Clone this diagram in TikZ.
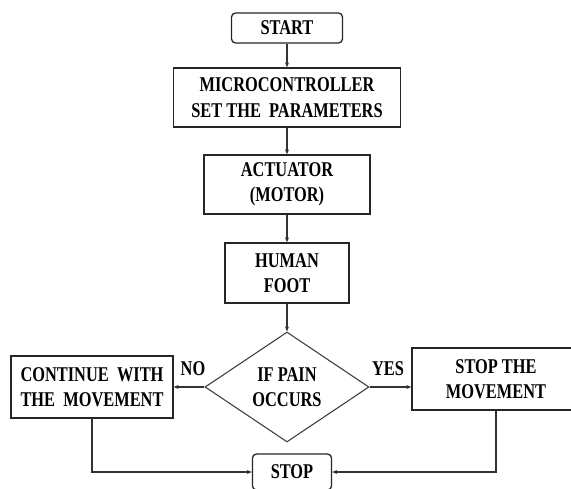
\documentclass[tikz,border=0pt]{standalone}
\usepackage{fontspec}
\setmainfont{Liberation Serif}[FakeStretch=0.78]
\usetikzlibrary{shapes.geometric,arrows.meta}
\begin{document}
\begin{tikzpicture}[x=1pt,y=-1pt,
  txt/.style={font=\bfseries\fontsize{21}{25.5}\selectfont, text=black},
  box/.style={txt, draw=black!85, line width=1.3pt, align=center, inner sep=0pt},
  term/.style={box, rounded corners=4pt},
  decide/.style={box, diamond, line width=1.1pt, draw=black!75},
  link/.style={draw=black!80, line width=1.1pt, -{Stealth[length=5pt,width=4pt]}},
  lbl/.style={txt, inner sep=0pt}]
\useasboundingbox (0,0) rectangle (571,488);
\clip (0,0) rectangle (571,488);

% main column
\node[term, minimum width=111pt, minimum height=30pt] (start) at (287,28) {START};
\node[box, minimum width=227pt, minimum height=59pt] (mcu) at (287,97.5)
  {MICROCONTROLLER\\SET THE~~PARAMETERS};
\node[box, minimum width=166pt, minimum height=59pt] (act) at (287,184.5)
  {ACTUATOR\\(MOTOR)};
\node[box, minimum width=124pt, minimum height=60pt] (foot) at (287,273)
  {HUMAN\\FOOT};
\node[decide, minimum width=164pt, minimum height=110pt] (pain) at (287,387)
  {IF PAIN\\OCCURS};

% branches
\node[box, minimum width=162pt, minimum height=62pt] (cont) at (92,387)
  {CONTINUE~~WITH\\THE~~MOVEMENT};
\node[box, minimum width=168pt, minimum height=62pt] (halt) at (496,379)
  {STOP THE\\MOVEMENT};
\node[term, minimum width=79pt, minimum height=36pt] (stop) at (292,472) {STOP};

% branch labels
\node[lbl] (no) at (193,369) {NO};
\node[lbl] (yes) at (388,369) {YES};

% connectors
\draw[link] (start) -- (mcu);
\draw[link] (mcu) -- (act);
\draw[link] (act) -- (foot);
\draw[link] (foot) -- (pain);
\draw[link] (pain.west) -- (cont.east);
\draw[link] (pain.east) -- (pain.east -| halt.west);
\draw[link] (cont.south) |- (stop.west);
\draw[link] (halt.south) |- (stop.east);
\end{tikzpicture}
\end{document}
